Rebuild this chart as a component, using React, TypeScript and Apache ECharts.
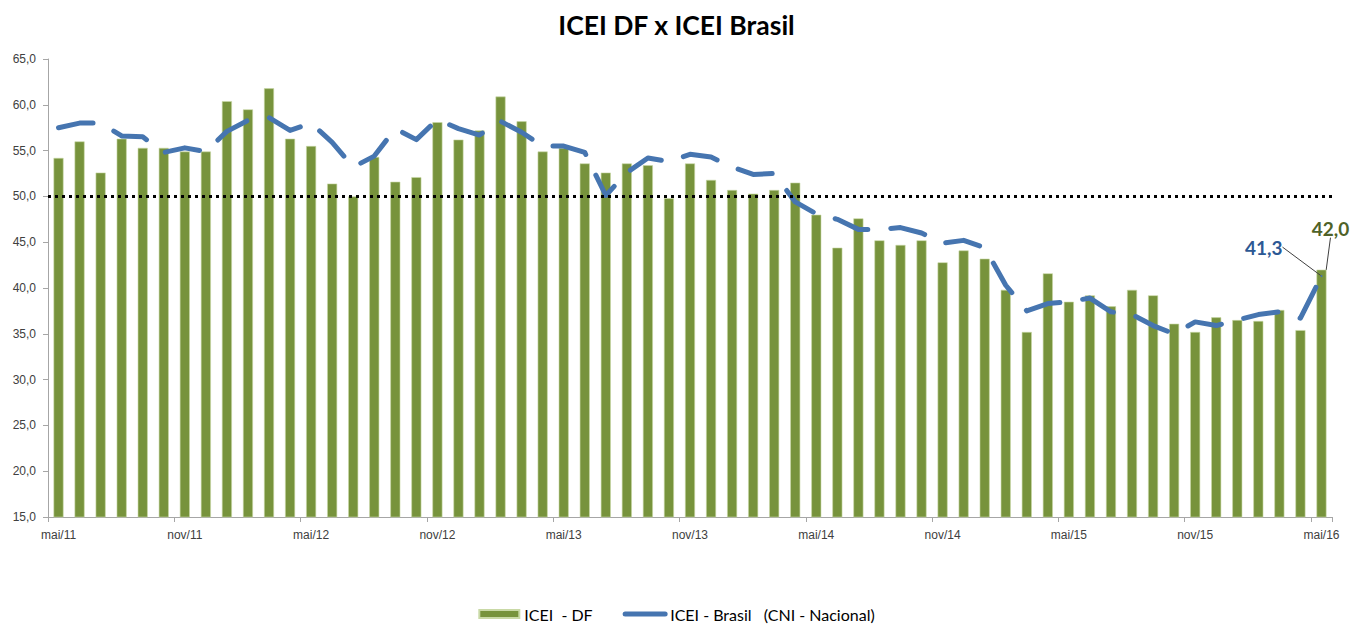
import React, { useEffect, useRef } from "react";
import * as echarts from "echarts";

const monthNames = ["jan", "fev", "mar", "abr", "mai", "jun", "jul", "ago", "set", "out", "nov", "dez"];
const firstMonthIndex = 4; // mai
const firstYear = 11;
const periodCount = 61;

const categories: string[] = [];
for (let k = 0; k < periodCount; k++) {
  const m = (firstMonthIndex + k) % 12;
  const y = firstYear + Math.floor((firstMonthIndex + k) / 12);
  categories.push(`${monthNames[m]}/${y}`);
}

const iceiDF = [
  54.2, 56.0, 52.6, 56.3, 55.3, 55.3, 54.9, 54.9, 60.4, 59.5,
  61.8, 56.3, 55.5, 51.4, 50.0, 54.3, 51.6, 52.1, 58.1, 56.2,
  57.2, 60.9, 58.2, 54.9, 55.3, 53.6, 52.6, 53.6, 53.4, 49.8,
  53.6, 51.8, 50.7, 50.3, 50.7, 51.5, 48.0, 44.4, 47.6, 45.2,
  44.7, 45.2, 42.8, 44.1, 43.2, 39.8, 35.2, 41.6, 38.5, 39.2,
  38.0, 39.8, 39.2, 36.1, 35.2, 36.8, 36.5, 36.4, 37.6, 35.4,
  42.0,
];

const iceiBrasil = [
  57.5, 58.0, 58.0, 56.6, 56.5, 54.8, 55.3, 54.9, 57.1, 58.3,
  58.6, 57.2, 58.0, 55.9, 53.2, 54.4, 57.4, 56.2, 58.4, 57.4,
  56.7, 58.2, 57.0, 55.5, 55.5, 54.8, 50.1, 52.6, 54.2, 53.8,
  54.6, 54.3, 53.2, 52.4, 52.5, 49.4, 48.1, 47.5, 46.4, 46.4,
  46.6, 46.0, 44.9, 45.2, 44.4, 40.3, 37.5, 38.3, 38.5, 38.9,
  37.4, 37.1, 35.9, 35.0, 36.3, 35.9, 36.5, 37.1, 37.4, 36.7,
  41.3,
];

const referenceLevel = 50;
const seriesNames = ["ICEI  - DF", "ICEI - Brasil   (CNI - Nacional)"];

const fmt = (v: number) => v.toFixed(1).replace(".", ",");

export default function App() {
  const ref = useRef<HTMLDivElement>(null);

  useEffect(() => {
    const chart = echarts.init(ref.current!, null, { renderer: "svg" });
    const last = periodCount - 1;

    const barData = iceiDF.map((v, i) =>
      i === last
        ? {
            value: v,
            label: {
              show: true,
              position: "top",
              formatter: (p: any) => fmt(p.value),
              color: "#4F6228",
              fontSize: 19,
              fontWeight: "bold",
              fontFamily: "Lato, 'Open Sans', sans-serif",
            },
            labelLine: { show: true, lineStyle: { color: "#404040", width: 1 } },
          }
        : v
    );

    const lineData = iceiBrasil.map((v, i) =>
      i === last
        ? {
            value: v,
            symbol: "circle",
            symbolSize: 2,
            label: {
              show: true,
              position: "left",
              formatter: (p: any) => fmt(p.value),
              color: "#2C5894",
              fontSize: 19,
              fontWeight: "bold",
              fontFamily: "Lato, 'Open Sans', sans-serif",
            },
            labelLine: { show: true, lineStyle: { color: "#404040", width: 1 } },
          }
        : v
    );

    chart.setOption({
      animation: false,
      backgroundColor: "#ffffff",
      title: {
        text: "ICEI DF x ICEI Brasil",
        left: "center",
        top: 6,
        textStyle: {
          fontSize: 26.5,
          fontWeight: "bold",
          color: "#000000",
          fontFamily: "Lato, 'Open Sans', sans-serif",
        },
      },
      legend: {
        top: 601,
        left: "center",
        itemWidth: 40,
        itemHeight: 8,
        itemGap: 30,
        textStyle: {
          fontSize: 16,
          color: "#000000",
          fontFamily: "Lato, 'Open Sans', sans-serif",
        },
        lineStyle: { type: "solid", width: 5, cap: "round" },
        data: [
          { name: seriesNames[0], icon: "rect" },
          { name: seriesNames[1], itemStyle: { opacity: 0 } },
        ],
      },
      grid: { left: 48, right: 21, top: 59, bottom: 108, containLabel: false },
      xAxis: {
        type: "category",
        data: categories,
        boundaryGap: true,
        axisLine: { lineStyle: { color: "#A6A6A6", width: 1 } },
        axisTick: { show: true, interval: 5, length: 5, lineStyle: { color: "#A6A6A6" } },
        axisLabel: {
          interval: 5,
          margin: 12,
          fontSize: 12,
          color: "#404040",
          fontFamily: "'Liberation Sans', Arial, sans-serif",
        },
        splitLine: { show: false },
      },
      yAxis: {
        type: "value",
        min: 15,
        max: 65,
        interval: 5,
        axisLine: { show: true, lineStyle: { color: "#A6A6A6", width: 1 } },
        axisTick: { show: true, length: 5, lineStyle: { color: "#A6A6A6" } },
        axisLabel: {
          margin: 12,
          fontSize: 12,
          color: "#404040",
          fontFamily: "'Liberation Sans', Arial, sans-serif",
          formatter: (v: number) => fmt(v),
        },
        splitLine: { show: false },
      },
      series: [
        {
          name: seriesNames[0],
          type: "bar",
          data: barData,
          barWidth: 10,
          itemStyle: { color: "#77933C", borderColor: "#C9D9A6", borderWidth: 0.6 },
          labelLayout: { dx: 9, dy: -27 },
          z: 2,
          markLine: {
            silent: true,
            symbol: "none",
            label: { show: false },
            lineStyle: { color: "#000000", width: 3, type: [3, 4] },
            data: [{ yAxis: referenceLevel }],
          },
        },
        {
          name: seriesNames[1],
          type: "line",
          data: lineData,
          symbol: "none",
          showSymbol: true,
          smooth: false,
          lineStyle: {
            color: "#4675B0",
            width: 5,
            type: [35, 23],
            cap: "round",
            join: "round",
          },
          itemStyle: { color: "#4675B0" },
          labelLayout: { dx: -33, dy: -29 },
          z: 3,
        },
      ],
    });

    return () => chart.dispose();
  }, []);

  return (
    <div
      ref={ref}
      style={{ position: "fixed", left: 0, top: 0, width: 1353, height: 625 }}
    />
  );
}
